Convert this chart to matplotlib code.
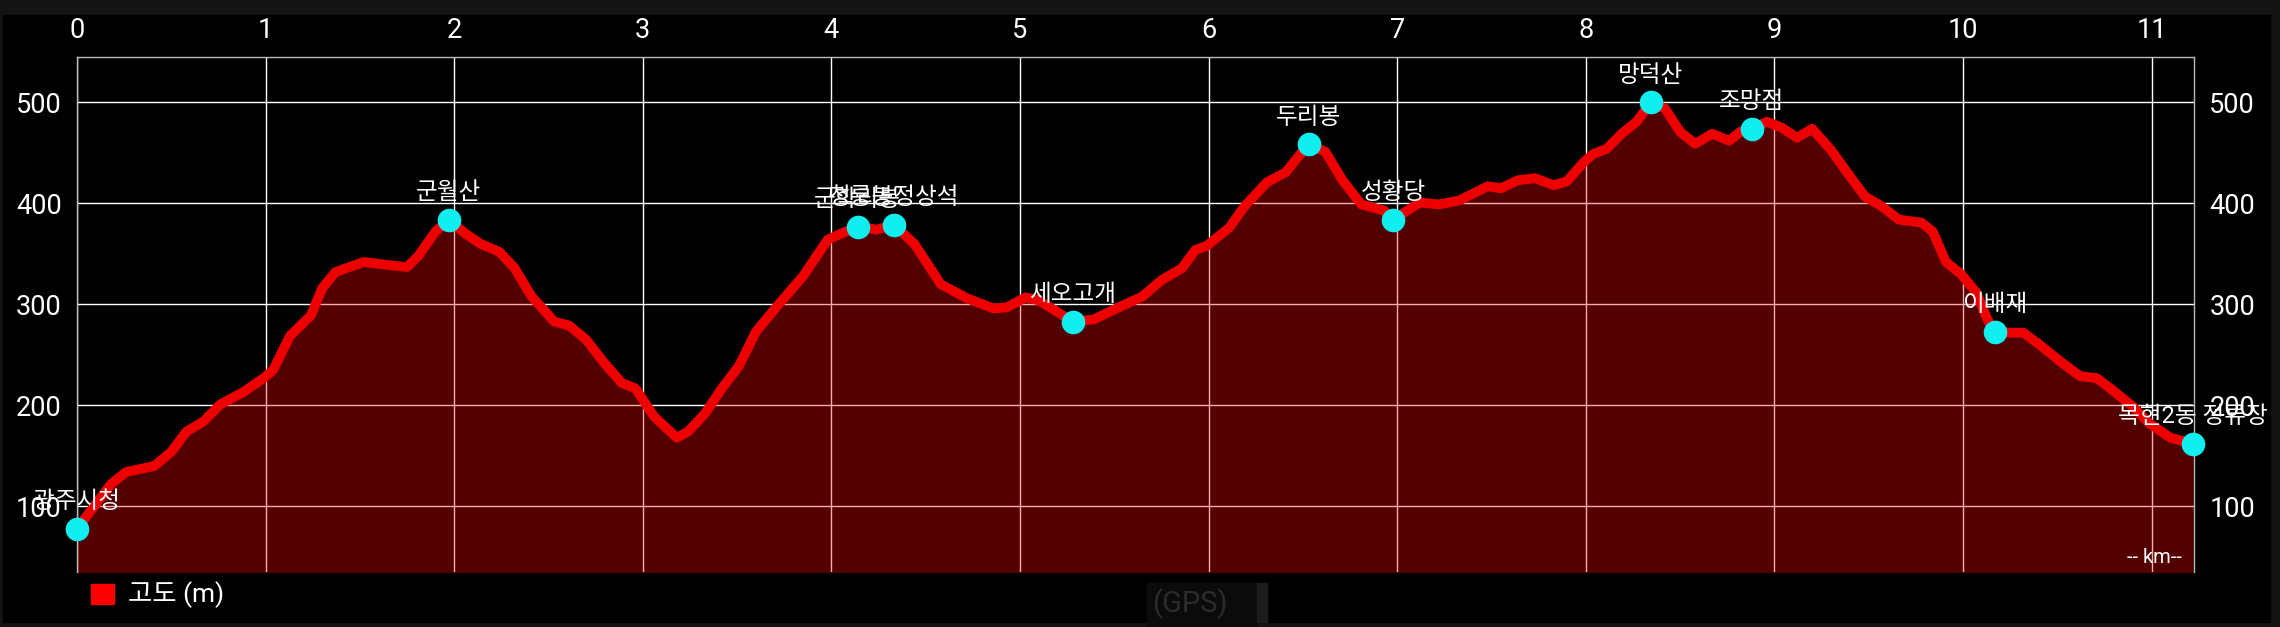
import matplotlib as mpl
import matplotlib.pyplot as plt
from matplotlib.patches import Rectangle

# elevation profile (km, m)
KM = [0.0, 0.07, 0.18, 0.26, 0.41, 0.50, 0.58, 0.67, 0.76, 0.88, 0.99, 1.04, 1.13,
      1.24, 1.30, 1.37, 1.52, 1.65, 1.75, 1.81, 1.90, 1.97, 2.06, 2.14, 2.24, 2.32,
      2.41, 2.53, 2.61, 2.70, 2.80, 2.89, 2.96, 3.06, 3.18, 3.24, 3.33, 3.42, 3.51,
      3.60, 3.72, 3.85, 3.98, 4.05, 4.14, 4.24, 4.33, 4.44, 4.58, 4.72, 4.86, 4.93,
      5.03, 5.10, 5.28, 5.39, 5.50, 5.65, 5.75, 5.86, 5.93, 5.99, 6.11, 6.19, 6.31,
      6.41, 6.53, 6.62, 6.71, 6.81, 6.93, 6.98, 7.12, 7.22, 7.33, 7.48, 7.55, 7.64,
      7.73, 7.83, 7.90, 7.99, 8.04, 8.11, 8.19, 8.27, 8.345, 8.42, 8.50, 8.58, 8.67,
      8.76, 8.82, 8.88, 8.96, 9.04, 9.12, 9.20, 9.30, 9.40, 9.48, 9.57, 9.66, 9.78,
      9.84, 9.91, 9.99, 10.07, 10.13, 10.17, 10.25, 10.32, 10.40, 10.52, 10.62, 10.71,
      10.78, 10.90, 10.99, 11.10, 11.22]
ELEV = [78, 95, 122, 134, 140, 154, 174, 184, 201, 213, 227, 235, 269,
        289, 316, 332, 342, 339, 337, 348, 372, 384, 370, 360, 352, 336,
        308, 283, 279, 265, 241, 222, 217, 189, 168, 174, 192, 217, 239,
        273, 300, 328, 364, 370, 377, 374, 379, 360, 320, 306, 296, 297,
        307, 304, 283, 285, 295, 308, 324, 336, 354, 358, 376, 397, 421,
        431, 459, 451, 423, 399, 393, 384, 401, 399, 403, 417, 415, 423,
        425, 418, 422, 441, 449, 454, 469, 481, 500, 494, 471, 459, 469,
        462, 471, 474, 481, 475, 465, 474, 453, 427, 407, 397, 384, 381,
        372, 342, 330, 312, 285, 273, 272, 272, 261, 243, 229, 227,
        217, 199, 182, 168, 162]

# waypoints
WP_NAMES = ["광주시청", "군월산", "군학리봉", "청룡봉정상석", "세오고개", "두리봉",
            "성황당", "망덕산", "조망점", "이배재", "목현2동 정류장"]
WP_KM = [0.0, 1.97, 4.14, 4.33, 5.28, 6.53, 6.98, 8.345, 8.88, 10.17, 11.22]
WP_ELEV = [78, 384, 377, 379, 283, 459, 384, 500, 474, 273, 162]

X_TICKS = list(range(0, 12))
Y_TICKS = [100, 200, 300, 400, 500]

mpl.rcParams["font.family"] = ["Roboto", "Noto Sans CJK KR", "DejaVu Sans"]

fig = plt.figure(figsize=(22.8, 6.27), dpi=100, facecolor="#141414")
fig.patches.append(Rectangle((3 / 2280, 5 / 627), 2267 / 2280, 607 / 627,
                             transform=fig.transFigure, color="black", zorder=-5))
ax = fig.add_axes([77 / 2280, 55 / 627, 2117 / 2280, 515 / 627])
ax.set_zorder(2)
ax.set_facecolor("black")

ax.fill_between(KM, ELEV, 0, color="red", alpha=0.33, linewidth=0, zorder=2)
ax.plot(KM, ELEV, color="#ee0000", linewidth=7, solid_capstyle="round",
        solid_joinstyle="round", zorder=3)
ax.plot(WP_KM, WP_ELEV, "o", color="#10eef0", markersize=17, markeredgewidth=0,
        zorder=4, clip_on=False)
for name, x, y in zip(WP_NAMES, WP_KM, WP_ELEV):
    ax.annotate(name, (x, y), xytext=(0, 11), textcoords="offset points",
                ha="center", va="bottom", color="white", fontsize=17, zorder=5,
                annotation_clip=False)

ax.set_xlim(0, 11.225)
ax.set_ylim(35, 545)
ax.set_xticks(X_TICKS)
ax.set_yticks(Y_TICKS)
ax.grid(True, color="white", linewidth=1.0, zorder=1)
ax.set_axisbelow(True)
ax.xaxis.tick_top()
ax.tick_params(axis="x", top=True, bottom=False, length=0, pad=9,
               labelsize=19.5, labelcolor="white")
ax.tick_params(axis="y", left=True, right=True, labelleft=True, labelright=True,
               length=0, pad=11, labelsize=19.5, labelcolor="white")
for side, sp in ax.spines.items():
    sp.set_color("#bbbbbb")
    sp.set_linewidth(1.0)
ax.spines["bottom"].set_visible(False)

ax.text(0.994, 0.028, "-- km--", transform=ax.transAxes, ha="right", va="center",
        color="white", fontsize=14.5)

# legend
fig.patches.append(Rectangle((91 / 2280, (627 - 604) / 627), 23 / 2280, 20 / 627,
                             transform=fig.transFigure, color="red", zorder=3))
fig.text(128 / 2280, (627 - 595) / 627, "고도 (m)", color="white", fontsize=19,
         ha="left", va="center")

# faint overlay artefact at the bottom
fig.patches.append(Rectangle((1147 / 2280, 0), 110 / 2280, 44 / 627,
                             transform=fig.transFigure, color="#0b0b0b", zorder=1))
fig.patches.append(Rectangle((1257 / 2280, 5 / 627), 10 / 2280, 39 / 627,
                             transform=fig.transFigure, color="#1c1c1c", zorder=1))
fig.text(1190 / 2280, (627 - 604) / 627, "(GPS)", color="#2c2c2c", fontsize=21,
         ha="center", va="center")

fig.savefig("out.png", dpi=100, facecolor=fig.get_facecolor())
